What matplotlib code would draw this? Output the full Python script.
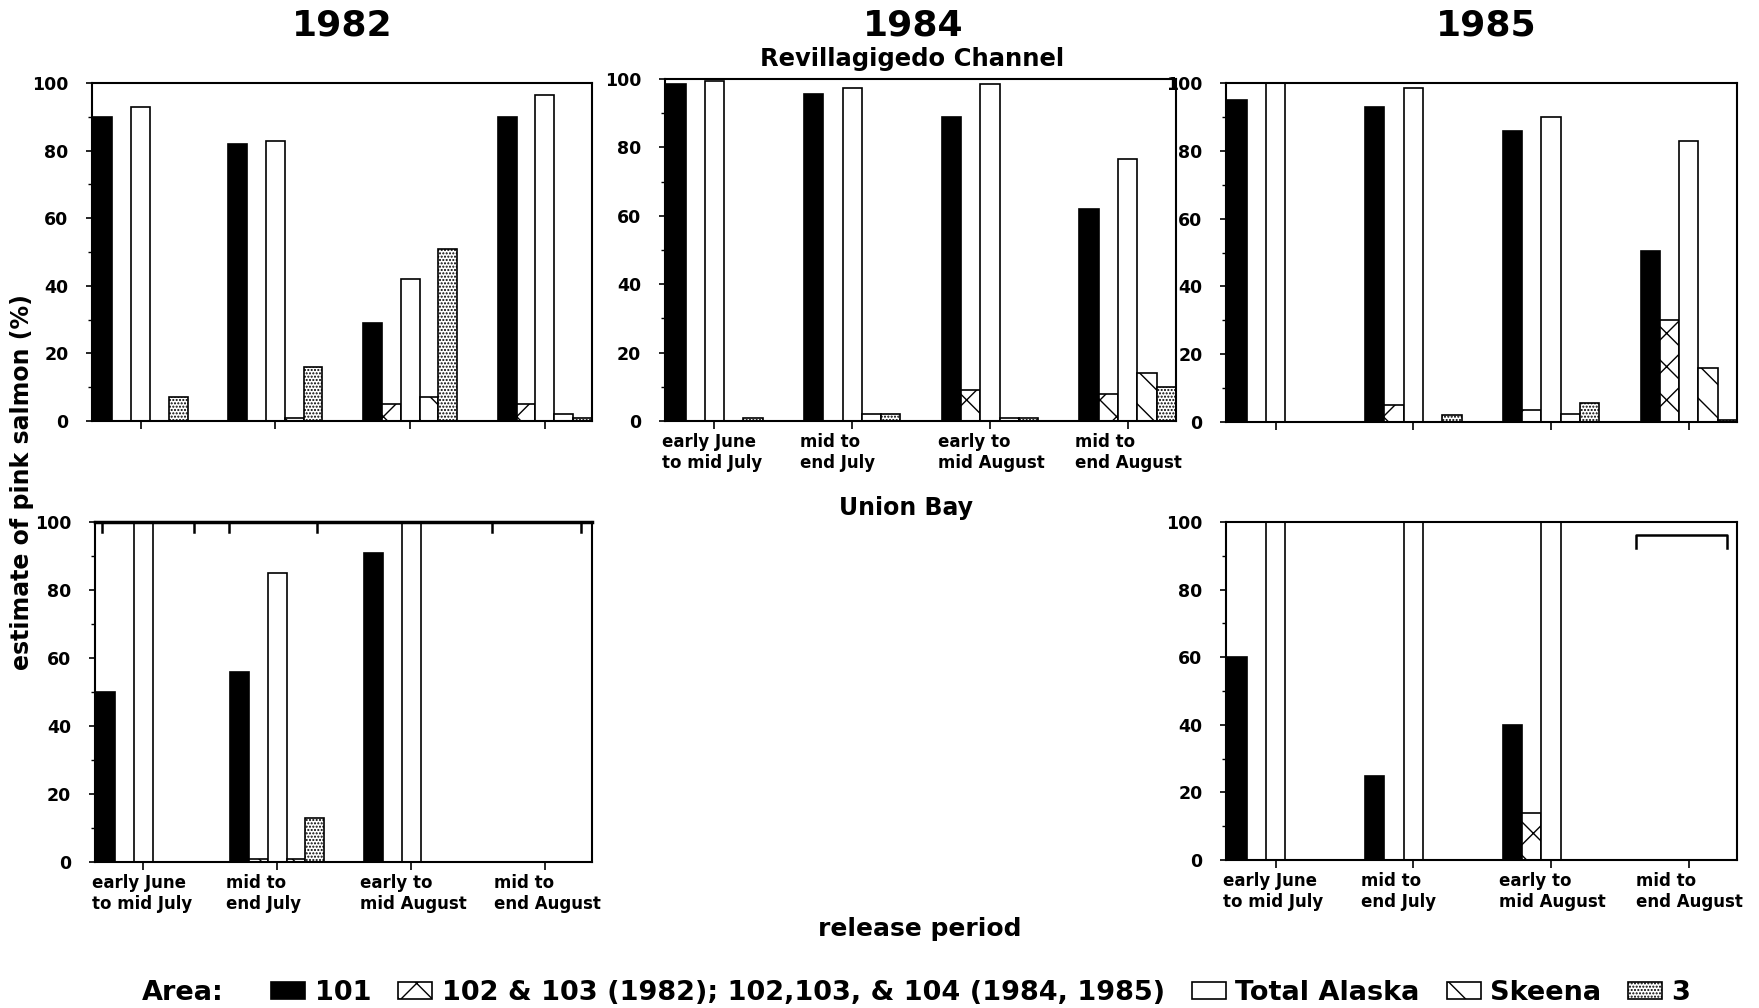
import numpy as np
import matplotlib
matplotlib.use("Agg")
import matplotlib.pyplot as plt
from matplotlib.patches import Patch
from matplotlib.transforms import blended_transform_factory

plt.rcParams['font.family'] = 'DejaVu Sans'
plt.rcParams['font.weight'] = 'bold'
plt.rcParams['hatch.linewidth'] = 1.0

periods = ['early June\nto mid July', 'mid to\nend July', 'early to\nmid August', 'mid to\nend August']
series_names = ['101', '102 & 103 (1982); 102,103, & 104 (1984, 1985)', 'Total Alaska', 'Skeena', '3']

# Revillagigedo Channel
rev82_101 = [90, 82, 29, 90]
rev82_102 = [0, 0, 5, 5]
rev82_total = [93, 83, 42, 96.5]
rev82_skeena = [0, 1, 7, 2]
rev82_3 = [7, 16, 51, 1]

rev84_101 = [98.5, 95.5, 89, 62]
rev84_102 = [0, 0, 9, 8]
rev84_total = [99.5, 97.5, 98.5, 76.5]
rev84_skeena = [0, 2, 1, 14]
rev84_3 = [1, 2, 1, 10]

rev85_101 = [95, 93, 86, 50.5]
rev85_102 = [0, 5, 3.5, 30]
rev85_total = [100, 98.5, 90, 83]
rev85_skeena = [0, 0, 2.5, 16]
rev85_3 = [0, 2, 5.5, 0.7]

# Union Bay
uni82_101 = [50, 56, 91, 0]
uni82_102 = [0, 1, 0, 0]
uni82_total = [100, 85, 100, 0]
uni82_skeena = [0, 1, 0, 0]
uni82_3 = [0, 13, 0, 0]

uni85_101 = [60, 25, 40, 0]
uni85_102 = [0, 0, 14, 0]
uni85_total = [100, 100, 100, 0]
uni85_skeena = [0, 0, 0, 0]
uni85_3 = [0, 0, 0, 0]

# brackets drawn over the Union Bay panels (group units)
uni82_brackets = [(-0.31, 0.38), (0.64, 1.30), (2.60, 3.27)]
uni85_brackets = [(2.62, 3.28)]

faces = ['black', 'white', 'white', 'white', 'white']
hatches = ['', 'x', '', '\\', '.....']
width = 0.14

fig = plt.figure(figsize=(17.59, 10.08), dpi=100)


def make_axes(rect):
    ax = fig.add_axes(rect)
    for s in ax.spines.values():
        s.set_linewidth(1.5)
    ax.set_xlim(-0.36, 3.35)
    ax.set_ylim(0, 100)
    ax.set_yticks([0, 20, 40, 60, 80, 100])
    ax.set_yticks([10, 30, 50, 70, 90], minor=True)
    ax.set_xticks(range(4))
    ax.set_xticklabels([])
    ax.tick_params(axis='y', labelsize=12.5, length=4, width=1.2, pad=13)
    ax.tick_params(axis='y', which='minor', length=3, width=1)
    ax.tick_params(axis='x', length=6, width=1.2)
    for lab in ax.get_yticklabels():
        lab.set_fontweight('bold')
    return ax


def draw(ax, data, labels=False):
    x = np.arange(4)
    for k, vals in enumerate(data):
        ax.bar(x + (k - 2) * width, vals, width, color=faces[k], hatch=hatches[k],
               edgecolor='black', linewidth=1.2)
    if labels:
        tr = blended_transform_factory(ax.transData, ax.transAxes)
        for i, p in enumerate(periods):
            ax.text(i - 0.38, -0.035, p, transform=tr, ha='left', va='top',
                    fontsize=12, fontweight='bold', linespacing=1.2)


def brackets(ax, spans, y, drop):
    for a, b in spans:
        ax.plot([a, a, b, b], [y - drop, y, y, y - drop], color='black', lw=1.8,
                clip_on=False)


ax1 = make_axes([0.0523, 0.5823, 0.2843, 0.3353])
draw(ax1, [rev82_101, rev82_102, rev82_total, rev82_skeena, rev82_3])

ax2 = make_axes([0.378, 0.5823, 0.2905, 0.3393])
draw(ax2, [rev84_101, rev84_102, rev84_total, rev84_skeena, rev84_3], labels=True)

ax3 = make_axes([0.697, 0.5813, 0.2905, 0.3363])
draw(ax3, [rev85_101, rev85_102, rev85_total, rev85_skeena, rev85_3])

ax4 = make_axes([0.054, 0.1448, 0.2826, 0.3373])
draw(ax4, [uni82_101, uni82_102, uni82_total, uni82_skeena, uni82_3], labels=True)
ax4.spines['top'].set_linewidth(2.5)
brackets(ax4, uni82_brackets, 100, 3)

ax5 = make_axes([0.697, 0.1468, 0.2905, 0.3353])
draw(ax5, [uni85_101, uni85_102, uni85_total, uni85_skeena, uni85_3], labels=True)
brackets(ax5, uni85_brackets, 96.3, 4)

fig.text(342 / 1759, 1 - 25 / 1008, '1982', ha='center', va='center', fontsize=26, fontweight='bold')
fig.text(913 / 1759, 1 - 25 / 1008, '1984', ha='center', va='center', fontsize=26, fontweight='bold')
fig.text(1486 / 1759, 1 - 25 / 1008, '1985', ha='center', va='center', fontsize=26, fontweight='bold')
fig.text(912 / 1759, 1 - 59 / 1008, 'Revillagigedo Channel', ha='center', va='center', fontsize=17.5, fontweight='bold')
fig.text(906 / 1759, 1 - 508 / 1008, 'Union Bay', ha='center', va='center', fontsize=17, fontweight='bold')
fig.text(920 / 1759, 1 - 929 / 1008, 'release period', ha='center', va='center', fontsize=18, fontweight='bold')
fig.text(22 / 1759, 1 - 482 / 1008, 'estimate of pink salmon (%)', ha='center', va='center',
         rotation=90, fontsize=17, fontweight='bold')

handles = [Patch(facecolor=faces[k], hatch=hatches[k], edgecolor='black', linewidth=1.2)
           for k in range(5)]
fig.text(142 / 1759, 1 - 993 / 1008, 'Area:', ha='left', va='center', fontsize=19.5, fontweight='bold')
fig.legend(handles, series_names, loc='center', bbox_to_anchor=(981 / 1759, 1 - 993 / 1008),
           ncol=5, frameon=False, fontsize=19.5, handlelength=1.25, handleheight=0.6,
           handletextpad=0.35, columnspacing=1.0, borderaxespad=0)

fig.savefig('out.png', dpi=100)
